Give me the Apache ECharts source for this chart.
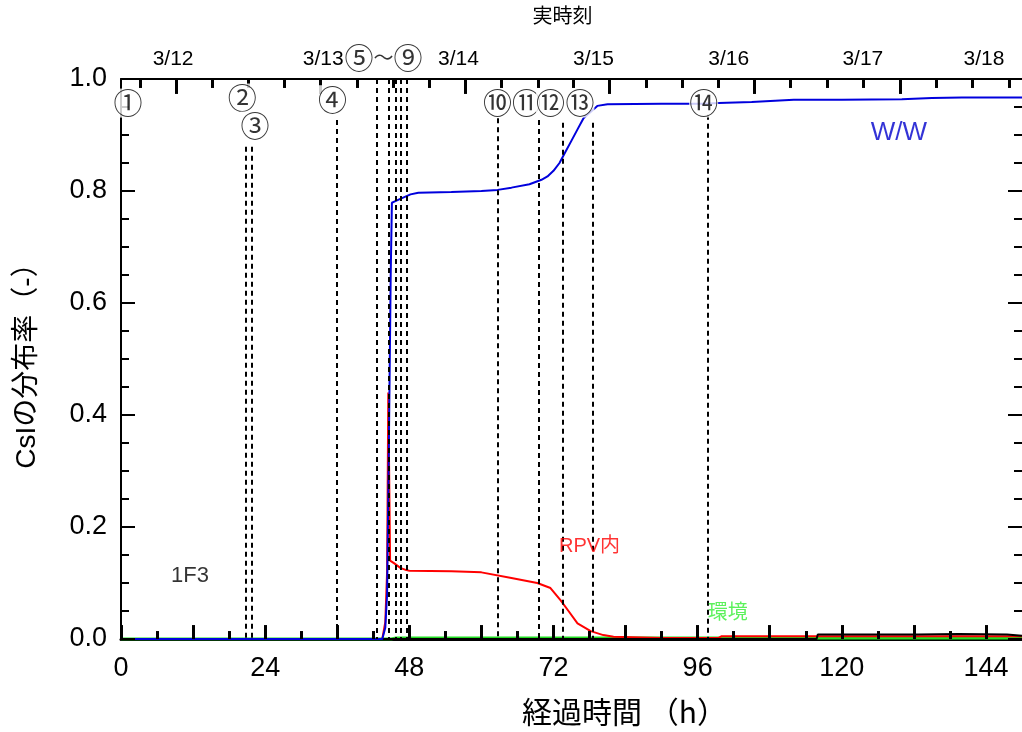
<!DOCTYPE html>
<html><head><meta charset="utf-8">
<script src="https://cdn.jsdelivr.net/npm/echarts@6/dist/echarts.min.js"></script>
<style>html,body{margin:0;padding:0;background:#fff}#c{width:1022px;height:732px}</style>
</head><body><div id="c"></div><script>
// ---- data ----
const wwHours  = [0, 43.5, 44.0, 44.3, 44.6, 44.9, 45.1, 45.5, 46.5, 48.2, 49.5, 55, 60, 62.7, 65, 68, 70, 71, 72, 73, 74, 75, 76, 77, 79.3, 81, 90, 97, 99.5, 105, 112, 120, 130, 135, 140, 145, 150];
const wwValues = [0, 0, 0.02, 0.08, 0.35, 0.65, 0.779, 0.781, 0.786, 0.794, 0.797, 0.798, 0.800, 0.802, 0.806, 0.812, 0.820, 0.826, 0.836, 0.850, 0.870, 0.890, 0.910, 0.930, 0.952, 0.955, 0.956, 0.956, 0.957, 0.959, 0.963, 0.963, 0.964, 0.966, 0.967, 0.967, 0.967];

const rpvHours  = [0, 43.5, 44.0, 44.3, 44.5, 44.8, 45.5, 46.5, 47.5, 48, 55, 60, 65, 69.3, 71.5, 73.2, 74.5, 76, 78.2, 80.3, 82, 90, 99.5, 100, 120, 150];
const rpvValues = [0, 0, 0.03, 0.12, 0.44, 0.14, 0.135, 0.127, 0.123, 0.122, 0.121, 0.119, 0.109, 0.100, 0.091, 0.069, 0.050, 0.028, 0.014, 0.007, 0.004, 0.002, 0.002, 0.005, 0.005, 0.005];

const envHours  = [0, 45.0, 45.8, 150];
const envValues = [0, 0, 0.002, 0.002];

const f3Hours  = [0, 115.8, 116.0, 132.7, 132.9, 139.5, 139.7, 147.5, 147.7, 150];
const f3Values = [0, 0, 0.008, 0.008, 0.0088, 0.0088, 0.008, 0.008, 0.006, 0.006];

const eventHours = [0, 20.8, 21.8, 36.0, 42.5, 44.5, 45.7, 46.5, 47.5, 62.7, 69.5, 73.5, 78.5, 97.7];
const eventTops  = [0.93, 0.879, 0.879, 0.927, 1, 1, 1, 1, 1, 0.93, 0.927, 0.922, 0.922, 0.936];

const markerTexts  = ['①', '②', '③', '④', '{c|⑤}{w|〜}{c|⑨}', '⑩', '⑪', '⑫', '⑬', '⑭'];
const markerHours  = [1.17, 20.2, 22.3, 35.2, 43.7, 62.7, 67.5, 71.5, 76.4, 97.0];
const markerValues = [0.957, 0.966, 0.916, 0.963, 1.038, 0.957, 0.957, 0.957, 0.957, 0.957];

const noteTexts  = ['W/W', 'RPV内', '環境', '1F3'];
const noteHours  = [129.5, 78.0, 101.0, 11.5];
const noteValues = [0.904, 0.165, 0.046, 0.112];
const noteColors = ['#0000cc', '#ff0000', '#33ee33', '#000000'];

const bottomMajorTicks = [0, 12, 24, 36, 48, 60, 72, 84, 96, 108, 120, 132, 144];
const bottomMinorTicks = [6, 18, 30, 42, 54, 66, 78, 90, 102, 114, 126, 138];
const bottomLabels = [0, 24, 48, 72, 96, 120, 144];

const yMajorTicks = [0, 0.2, 0.4, 0.6, 0.8, 1.0];
const yMinorTicks = [0.05, 0.1, 0.15, 0.25, 0.3, 0.35, 0.45, 0.5, 0.55, 0.65, 0.7, 0.75, 0.85, 0.9, 0.95];

const dateTickHours  = [9.2, 33.2, 57.3, 81.3, 105.5, 129.7];
const dateMinorTicks = [3.2, 15.2, 21.2, 27.2, 39.3, 45.3, 51.4, 63.3, 69.4, 75.3, 87.4, 93.5, 99.5, 111.5, 117.6, 123.6, 135.7, 141.8, 147.8];
const dateLabelHours = [8.67, 33.67, 56.17, 78.67, 101.17, 123.5, 143.67];
const dateLabels = ['3/12', '3/13', '3/14', '3/15', '3/16', '3/17', '3/18'];

// ---- layout / style ----
const X_MIN = 0, X_MAX = 150, Y_MIN = 0, Y_MAX = 1;
const GRID = { left: 121, right: 0, top: 79, bottom: 91 };
const PLOT_W = 1022 - GRID.left - GRID.right, PLOT_H = 732 - GRID.top - GRID.bottom;
const HPX = (X_MAX - X_MIN) / PLOT_W;   // data units per pixel, x
const VPX = (Y_MAX - Y_MIN) / PLOT_H;   // data units per pixel, y
const TICK_MAJOR = 14, TICK_MINOR = 8;
const FONT = "'Liberation Sans', 'Noto Sans CJK JP', sans-serif";
const JFONT = "'Noto Sans CJK JP', sans-serif";
const zip = (xs, ys) => xs.map((x, i) => [x, ys[i]]);

// tick marks drawn as markLine segments through the axes' own scales (inward-pointing)
const seg = (a, b, w) => [{ coord: a, lineStyle: { width: w, type: 'solid', color: '#000' } }, { coord: b }];
const tickLines = [].concat(
  yMajorTicks.map(v => seg([X_MIN, v], [X_MIN + TICK_MAJOR * HPX, v], 2)),
  yMinorTicks.map(v => seg([X_MIN, v], [X_MIN + TICK_MINOR * HPX, v], 2)),
  yMajorTicks.map(v => seg([X_MAX, v], [X_MAX - TICK_MAJOR * HPX, v], 2)),
  yMinorTicks.map(v => seg([X_MAX, v], [X_MAX - TICK_MINOR * HPX, v], 2)),
  bottomMajorTicks.map(h => seg([h, Y_MIN], [h, Y_MIN + TICK_MAJOR * VPX], 3)),
  bottomMinorTicks.map(h => seg([h, Y_MIN], [h, Y_MIN + TICK_MINOR * VPX], 3)),
  dateTickHours.map(h => seg([h, Y_MAX], [h, Y_MAX - (TICK_MAJOR + 1) * VPX], 3)),
  dateMinorTicks.map(h => seg([h, Y_MAX], [h, Y_MAX - (TICK_MINOR + 1) * VPX], 3))
);

const chart = echarts.init(document.getElementById('c'));
chart.setOption({
  animation: false,
  backgroundColor: '#fff',
  textStyle: { fontFamily: FONT },
  grid: Object.assign({ containLabel: false }, GRID),
  xAxis: [
    {
      type: 'value', min: X_MIN, max: X_MAX, position: 'bottom', splitLine: { show: false },
      name: '経過時間 （h）', nameLocation: 'middle', nameGap: 58,
      nameTextStyle: { fontSize: 30, color: '#000', fontFamily: JFONT, padding: [0, 0, 0, 106] },
      axisLine: { show: true, lineStyle: { color: '#000', width: 3 } },
      axisTick: { show: false },
      axisLabel: { show: true, customValues: bottomLabels, fontSize: 27, color: '#000', margin: 16, fontFamily: FONT }
    },
    {
      type: 'value', min: X_MIN, max: X_MAX, position: 'top', splitLine: { show: false },
      name: '実時刻', nameLocation: 'middle', nameGap: 54,
      nameTextStyle: { fontSize: 20, color: '#000', fontFamily: JFONT, padding: [0, 18, 0, 0] },
      axisLine: { show: true, onZero: false, lineStyle: { color: '#000', width: 2 } },
      axisTick: { show: false },
      axisLabel: {
        show: true, customValues: dateLabelHours, fontSize: 21, color: '#000', margin: 9, fontFamily: FONT,
        formatter: v => { const i = dateLabelHours.findIndex(h => Math.abs(h - v) < 1e-6); return i >= 0 ? dateLabels[i] : ''; }
      }
    }
  ],
  yAxis: [
    {
      type: 'value', min: Y_MIN, max: Y_MAX, interval: 0.2, position: 'left',
      name: 'CsIの分布率（-）', nameLocation: 'middle', nameGap: 80, nameRotate: 90,
      nameTextStyle: { fontSize: 28, color: '#000', fontFamily: FONT },
      axisLine: { show: true, lineStyle: { color: '#000', width: 2 } },
      axisTick: { show: false },
      axisLabel: { fontSize: 27, color: '#000', margin: 14, fontFamily: FONT, formatter: v => v.toFixed(1) },
      splitLine: { show: false }
    }
  ],
  series: [
    {
      name: '環境', type: 'line', data: zip(envHours, envValues), showSymbol: false, z: 2,
      lineStyle: { color: '#22dd22', width: 3 }, itemStyle: { color: '#22dd22' },
      markLine: {
        silent: true, symbol: ['none', 'none'], label: { show: false },
        lineStyle: { color: '#000', width: 2, type: [5, 4] },
        emphasis: { disabled: true },
        data: eventHours.map((h, i) => [{ coord: [h, eventTops[i]] }, { coord: [h, 0] }])
      }
    },
    {
      name: 'RPV内', type: 'line', data: zip(rpvHours, rpvValues), showSymbol: false, z: 3,
      lineStyle: { color: '#ff0000', width: 2 }, itemStyle: { color: '#ff0000' }
    },
    {
      name: '1F3', type: 'line', data: zip(f3Hours, f3Values), showSymbol: false, z: 3,
      lineStyle: { color: '#000000', width: 2 }, itemStyle: { color: '#000' },
      markLine: {
        silent: true, symbol: ['none', 'none'], label: { show: false },
        lineStyle: { color: '#000', width: 2, type: 'solid' },
        emphasis: { disabled: true },
        data: tickLines
      }
    },
    {
      name: 'W/W', type: 'line', data: zip(wwHours, wwValues), showSymbol: false, z: 4,
      lineStyle: { color: '#0000dd', width: 2 }, itemStyle: { color: '#0000dd' }
    },
    {
      name: 'markers', type: 'scatter', z: 10, clip: false, silent: true,
      symbol: 'circle', symbolSize: 2, itemStyle: { color: 'rgba(255,255,255,0)' },
      data: markerTexts.map((t, i) => ({
        value: [markerHours[i], markerValues[i]],
        label: {
          show: true, position: 'inside', formatter: t, fontSize: 29, color: '#000',
          fontFamily: JFONT, backgroundColor: '#fff', padding: [0, 0],
          rich: {
            c: { fontSize: 29, fontFamily: JFONT, color: '#000' },
            w: { fontSize: 20, fontFamily: JFONT, color: '#000' }
          }
        }
      }))
    },
    {
      name: 'notes', type: 'scatter', z: 10, clip: false, silent: true,
      symbol: 'circle', symbolSize: 2, itemStyle: { color: 'rgba(255,255,255,0)' },
      data: noteTexts.map((t, i) => ({
        value: [noteHours[i], noteValues[i]],
        label: {
          show: true, position: 'inside', formatter: t, color: noteColors[i],
          fontSize: i === 0 ? 26 : (i === 3 ? 22 : 20), fontFamily: FONT
        }
      }))
    }
  ]
});
</script></body></html>
